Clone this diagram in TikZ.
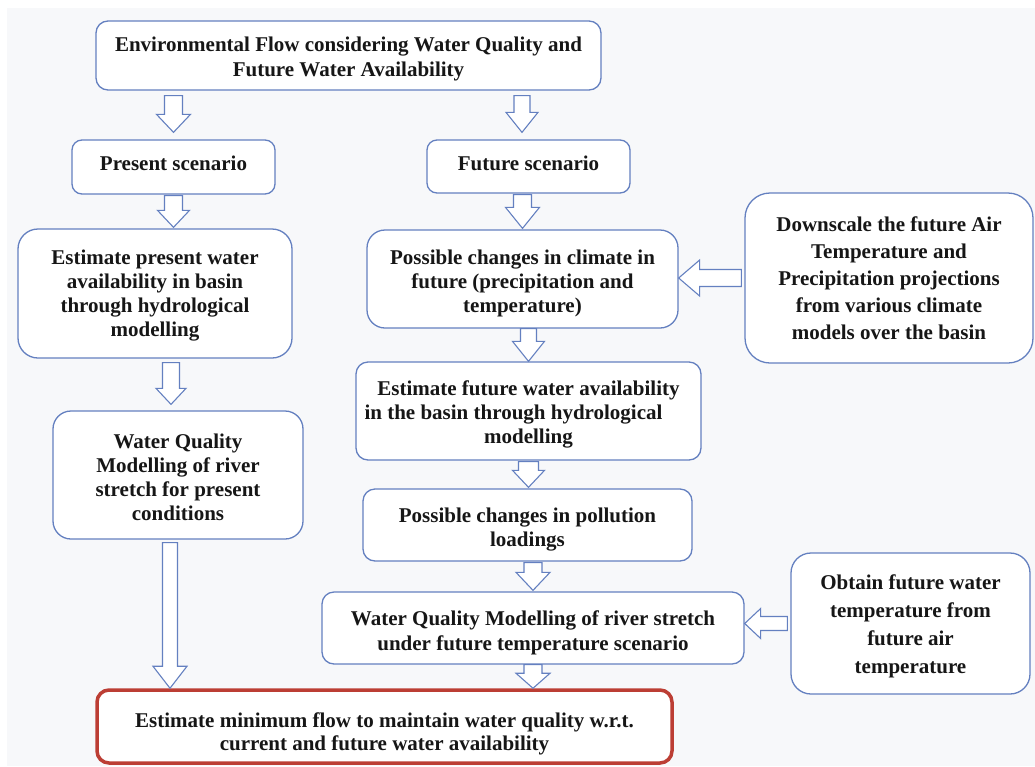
\documentclass[tikz,border=0pt]{standalone}
\usepackage{fontspec}
\setmainfont{Liberation Serif}
\usetikzlibrary{calc}
\definecolor{bcol}{RGB}{100,128,192}
\definecolor{rcol}{RGB}{188,62,52}
\definecolor{bgcol}{RGB}{247,248,250}
\definecolor{tcol}{RGB}{22,22,22}
\tikzset{
  box/.style={draw=bcol, line width=1.3pt, fill=white, rounded corners=12pt,
    align=center, inner sep=2pt, text=tcol,
    font=\fontsize{21}{24}\selectfont\bfseries},
  finalbox/.style={box, draw=rcol, line width=3.5pt,
    font=\fontsize{21}{23}\selectfont\bfseries},
  barrow/.style={draw=bcol, line width=1.1pt, fill=white, line join=miter}
}
% struts used to move the text block inside a box
\newcommand\lift[1]{\rule{0pt}{#1pt}}
\newcommand\sink[1]{\rule[-#1pt]{0pt}{#1pt}}
% vertical block arrow: start, end, gap at start, gap at end, shaft half width, head half width, head length
\newcommand\vblock[7]{\draw[barrow] let \p1=(#1), \p2=(#2) in
  ($(\x1,\y1)+(-#5,#3)$) -- ($(\x1,\y2)+(-#5,-#4-#7)$) -- ($(\x1,\y2)+(-#6,-#4-#7)$)
  -- ($(\x1,\y2)+(0,-#4)$) -- ($(\x1,\y2)+(#6,-#4-#7)$) -- ($(\x1,\y2)+(#5,-#4-#7)$)
  -- ($(\x1,\y1)+(#5,#3)$) -- cycle;}
% leftward block arrow
\newcommand\hblock[7]{\draw[barrow] let \p1=(#1), \p2=(#2) in
  ($(\x1,\y1)+(-#3,-#5)$) -- ($(\x2,\y1)+(#4+#7,-#5)$) -- ($(\x2,\y1)+(#4+#7,-#6)$)
  -- ($(\x2,\y1)+(#4,0)$) -- ($(\x2,\y1)+(#4+#7,#6)$) -- ($(\x2,\y1)+(#4+#7,#5)$)
  -- ($(\x1,\y1)+(-#3,#5)$) -- cycle;}
\begin{document}
\begin{tikzpicture}[x=1pt,y=-1pt]
\useasboundingbox (0,0) rectangle (1035,766);
\fill[white] (0,0) rectangle (1035,766);
\fill[bgcol] (7,8) rectangle (1035,766);

\node[box, minimum width=505pt, minimum height=69pt,
  font=\fontsize{21}{25}\selectfont\bfseries] (top) at (348.5,55.5)
  {\lift{22}Environmental Flow considering Water Quality and\\Future Water Availability};
\node[box, rounded corners=10pt, minimum width=203pt, minimum height=54pt] (present) at (173.5,167)
  {Present scenario\sink{7}};
\node[box, rounded corners=10pt, minimum width=203pt, minimum height=53pt] (future) at (528.5,166.5)
  {Future scenario\sink{6}};
\node[box, rounded corners=20pt, minimum width=274pt, minimum height=129pt] (estp) at (155,293.5)
  {\lift{18}Estimate present water\\availability in basin\\through hydrological\\modelling};
\node[box, rounded corners=18pt, minimum width=311pt, minimum height=98pt] (climate) at (522.5,279)
  {\lift{24}Possible changes in climate in\\future (precipitation and\\temperature)};
\node[box, rounded corners=25pt, minimum width=288pt, minimum height=170pt,
  font=\fontsize{21}{27}\selectfont\bfseries] (down) at (889,278)
  {Downscale the future Air\\Temperature and\\Precipitation projections\\from various climate\\models over the basin};
\node[box, minimum width=345pt, minimum height=98pt] (futav) at (528.5,411)
  {\lift{21}Estimate future water availability\\in the basin through hydrological\hspace{30pt}\mbox{}\\modelling};
\node[box, rounded corners=18pt, minimum width=250pt, minimum height=128pt] (wqp) at (178,475)
  {\lift{19}Water Quality\\Modelling of river\\stretch for present\\conditions};
\node[box, minimum width=329pt, minimum height=72pt] (poll) at (527.5,525)
  {\lift{23}Possible changes in pollution\\loadings};
\node[box, minimum width=422pt, minimum height=72pt,
  font=\fontsize{21}{25}\selectfont\bfseries] (wqf) at (533,628)
  {\lift{25}Water Quality Modelling of river stretch\\under future temperature scenario};
\node[box, rounded corners=20pt, minimum width=239pt, minimum height=141pt,
  font=\fontsize{21}{28}\selectfont\bfseries] (obtain) at (910.5,623.5)
  {\lift{20}Obtain future water\\temperature from\\future air\\temperature};
\node[finalbox, minimum width=575pt, minimum height=73pt] (final) at (384.5,726.5)
  {\lift{29}Estimate minimum flow to maintain water quality w.r.t.\\current and future water availability};

\coordinate (c2) at (522,0);
\coordinate (c9) at (171,0);
\coordinate (c10) at (170,0);

\vblock{top.south -| present.north}{present.north}{5}{7}{9}{17}{18}
\vblock{c2 |- top.south}{future.north}{5}{7}{8}{16}{20}
\vblock{present.south}{estp.north}{1}{1}{9}{16}{17}
\vblock{future.south -| climate.north}{climate.north}{1}{1}{9}{17}{21}
\vblock{climate.south -| futav.north}{futav.north}{0}{0}{8}{16}{20}
\vblock{futav.south}{poll.north}{1}{1}{10}{16}{17}
\vblock{poll.south -| wqf.north}{wqf.north}{1}{1}{9}{17}{18}
\vblock{wqf.south}{final.north}{0}{0}{9}{17}{15}
\vblock{c9 |- estp.south}{wqp.north}{4}{6}{8.5}{15}{16}
\vblock{c10 |- wqp.south}{final.north}{3}{0}{7.5}{17}{22}
\hblock{down.west}{climate.east}{3}{0}{8.5}{18}{21}
\hblock{obtain.west}{wqf.east}{3}{0}{7}{15}{16}
\end{tikzpicture}
\end{document}
